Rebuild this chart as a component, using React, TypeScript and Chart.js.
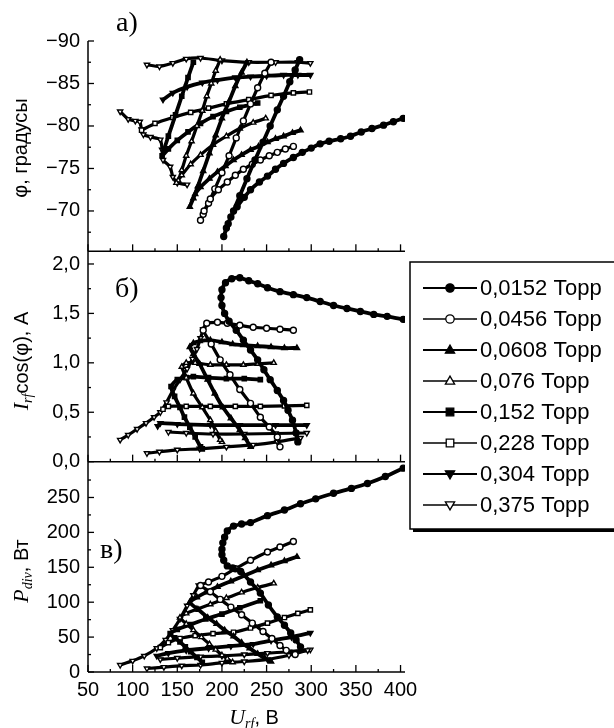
import React, { useEffect, useRef } from 'react';
import { Chart, registerables } from 'chart.js';

Chart.register(...registerables);

type Pt = [number, number] | null;

// ---- legend / series meta ----
const PRESSURES = ['0,0152 Торр', '0,0456 Торр', '0,0608 Торр', '0,076 Торр', '0,152 Торр', '0,228 Торр', '0,304 Торр', '0,375 Торр'];
const MARKERS = ['circle', 'circle', 'triangle', 'triangle', 'rect', 'rect', 'triangle', 'triangle'];
const FILLED = [true, false, true, false, true, false, true, false];
const ROTATION = [0, 0, 0, 0, 0, 0, 180, 180];

// ---- tick values ----
const X_TICKS = [50, 100, 150, 200, 250, 300, 350, 400];
const PHI_TICKS = [-90, -85, -80, -75, -70];
const ICOS_TICKS = [0, 0.5, 1.0, 1.5, 2.0];
const PDIV_TICKS = [0, 50, 100, 150, 200, 250];

// ---- panel a: phase angle (U_rf, phi) ----
const phi_0152: Pt[] = [[287, -87.8], [282, -86.6], [276, -85.2], [269, -83.5], [262, -81.9], [254, -80.0], [246, -78.1], [237, -76.0], [228, -73.8], [220, -71.8], [213, -70.0], [207, -68.5], [202, -67.0], [205, -68.0], [210, -69.3], [217, -70.5], [225, -71.6], [232, -72.5], [242, -73.4], [251, -74.1], [260, -74.9], [269, -75.6], [280, -76.3], [290, -76.9], [300, -77.4], [310, -77.9], [320, -78.2], [333, -78.5], [344, -78.8], [356, -79.3], [368, -79.7], [381, -80.1], [392, -80.5], [403, -80.9]];
const phi_0456: Pt[] = [[255, -87.5], [248, -86.2], [240, -84.5], [232, -82.6], [224, -80.6], [216, -78.6], [208, -76.5], [200, -74.5], [192, -72.6], [185, -70.9], [179, -69.6], [176, -68.9], [180, -70.0], [187, -71.4], [196, -72.5], [206, -73.4], [215, -74.2], [224, -74.9], [234, -75.5], [243, -76.0], [253, -76.5], [262, -76.9], [271, -77.3], [280, -77.6]];
const phi_0608: Pt[] = [[228, -87.5], [222, -86.3], [215, -84.7], [208, -82.9], [200, -80.9], [193, -78.9], [186, -76.8], [179, -74.7], [173, -72.9], [168, -71.5], [164, -70.5], [170, -72.0], [176, -72.8], [186, -73.8], [195, -74.6], [204, -75.3], [213, -76.0], [222, -76.6], [232, -77.2], [241, -77.6], [251, -78.1], [260, -78.5], [269, -78.8], [279, -79.2], [288, -79.5]];
const phi_076: Pt[] = [[198, -87.8], [193, -86.5], [188, -85.0], [183, -83.5], [178, -81.8], [172, -80.0], [166, -78.2], [160, -76.5], [155, -74.8], [151, -73.6], [149, -73.3], [155, -74.2], [165, -75.5], [176, -76.6], [190, -77.8], [205, -78.8], [220, -79.7], [235, -80.4], [249, -80.9]];
const phi_152: Pt[] = [[168, -87.5], [162, -85.7], [155, -83.5], [148, -81.3], [140, -78.8], [135, -77.2], [133, -76.5], [140, -77.3], [150, -78.3], [162, -79.3], [176, -80.3], [190, -81.1], [205, -81.7], [220, -82.2], [240, -82.7]];
const phi_228: Pt[] = [[110, -79.5], [125, -80.3], [145, -81.0], [165, -81.6], [185, -82.1], [205, -82.6], [230, -83.1], [255, -83.6], [280, -83.9], [298, -84.0]];
const phi_304: Pt[] = [[134, -83.1], [145, -83.9], [161, -84.6], [178, -85.1], [195, -85.4], [215, -85.7], [232, -85.8], [250, -85.9], [269, -86.0], [285, -86.0], [299, -86.0]];
const phi_375: Pt[] = [[86, -81.7], [95, -80.8], [103, -80.6], [108, -80.5], [110, -79.6], [112, -79.0], [120, -78.7], [131, -78.4], [133, -77.2], [134, -76.0], [142, -75.2], [145, -74.0], [150, -73.3], [161, -73.1], null, [116, -87.2], [130, -87.0], [145, -87.4], [160, -87.9], [176, -88.0], [200, -87.7], [230, -87.5], [260, -87.5], [285, -87.5], [299, -87.4]];

// ---- panel b: I_rf cos(phi) (U_rf, A) ----
const icos_0152: Pt[] = [[285, 0.20], [283, 0.29], [279, 0.42], [274, 0.52], [269, 0.62], [262, 0.72], [254, 0.83], [247, 0.93], [240, 1.03], [232, 1.13], [224, 1.23], [216, 1.33], [208, 1.42], [203, 1.50], [200, 1.58], [199, 1.66], [200, 1.74], [204, 1.81], [211, 1.85], [220, 1.86], [230, 1.83], [240, 1.80], [251, 1.76], [265, 1.72], [280, 1.69], [295, 1.66], [310, 1.62], [325, 1.58], [340, 1.55], [355, 1.52], [370, 1.49], [385, 1.47], [403, 1.44]];
const icos_0456: Pt[] = [[265, 0.15], [262, 0.25], [253, 0.35], [243, 0.45], [232, 0.59], [220, 0.73], [209, 0.88], [198, 1.03], [188, 1.19], [179, 1.33], [183, 1.40], [195, 1.41], [206, 1.40], [220, 1.38], [235, 1.36], [250, 1.35], [265, 1.34], [280, 1.33]];
const icos_0608: Pt[] = [[232, 0.15], [226, 0.24], [220, 0.32], [210, 0.44], [201, 0.55], [192, 0.69], [184, 0.83], [175, 0.99], [168, 1.09], [164, 1.16], [168, 1.20], [175, 1.22], [187, 1.23], [200, 1.21], [212, 1.19], [224, 1.18], [240, 1.17], [255, 1.16], [270, 1.15], [284, 1.15]];
const icos_076: Pt[] = [[200, 0.20], [198, 0.22], [193, 0.31], [187, 0.42], [178, 0.55], [168, 0.69], [160, 0.85], [155, 0.96], [160, 1.0], [170, 1.0], [187, 0.98], [205, 0.98], [224, 0.98], [240, 0.99], [258, 1.0]];
const icos_152: Pt[] = [[178, 0.13], [176, 0.15], [170, 0.25], [164, 0.35], [158, 0.45], [153, 0.55], [147, 0.66], [143, 0.76], [150, 0.83], [160, 0.85], [168, 0.86], [185, 0.85], [205, 0.84], [225, 0.84], [243, 0.83]];
const icos_228: Pt[] = [[134, 0.53], [140, 0.56], [160, 0.56], [187, 0.56], [215, 0.56], [243, 0.56], [270, 0.565], [295, 0.57]];
const icos_304: Pt[] = [[128, 0.36], [131, 0.39], [150, 0.38], [187, 0.37], [220, 0.37], [260, 0.37], [295, 0.37]];
const icos_375: Pt[] = [[140, 0.30], [160, 0.29], [190, 0.28], [225, 0.28], [260, 0.285], [295, 0.29], null, [116, 0.085], [130, 0.10], [150, 0.12], [175, 0.13], [205, 0.15], [235, 0.17], [262, 0.20], [288, 0.24], null, [86, 0.22], [95, 0.27], [105, 0.33], [115, 0.39], [124, 0.45], [131, 0.50], [138, 0.60], [145, 0.72], [153, 0.83], [161, 0.94], [167, 1.04], [172, 1.14], [176, 1.25], [179, 1.34]];

// ---- panel c: P_div (U_rf, W) ----
const pdiv_0152: Pt[] = [[288, 36], [283, 46], [277, 56], [270, 67], [262, 79], [252, 96], [243, 113], [232, 129], [221, 144], [212, 149], [206, 152], [202, 160], [200, 168], [200, 176], [201, 185], [203, 193], [206, 202], [213, 209], [222, 212], [232, 214], [251, 224], [270, 232], [288, 241], [305, 248], [325, 256], [345, 263], [363, 270], [383, 280], [403, 292]];
const pdiv_0456: Pt[] = [[282, 25], [272, 31], [265, 38], [256, 48], [246, 58], [234, 70], [222, 82], [210, 93], [198, 104], [187, 115], [176, 124], [185, 129], [200, 137], [215, 148], [232, 160], [251, 172], [265, 179], [280, 187]];
const pdiv_0608: Pt[] = [[255, 15], [248, 20], [240, 26], [231, 34], [222, 42], [213, 51], [203, 60], [194, 69], [184, 78], [174, 89], [164, 100], [172, 107], [182, 114], [195, 122], [210, 130], [225, 138], [240, 146], [255, 153], [270, 159], [284, 165]];
const pdiv_076: Pt[] = [[212, 14], [206, 19], [200, 24], [193, 32], [186, 40], [177, 50], [168, 60], [160, 69], [153, 78], [160, 84], [172, 90], [187, 97], [205, 106], [222, 114], [240, 121], [258, 127]];
const pdiv_152: Pt[] = [[178, 14], [172, 21], [165, 29], [159, 36], [153, 43], [147, 49], [142, 55], [150, 61], [165, 68], [182, 76], [200, 83], [220, 92], [243, 102]];
const pdiv_228: Pt[] = [[131, 35], [140, 42], [153, 48], [170, 52], [190, 55], [213, 57], [232, 63], [251, 70], [270, 78], [285, 84], [299, 89]];
const pdiv_304: Pt[] = [[127, 23], [140, 27], [160, 31], [185, 34], [210, 37], [235, 40], [255, 45], [278, 50], [299, 56]];
const pdiv_375: Pt[] = [[131, 18], [150, 20], [176, 22], [200, 23], [225, 25], [251, 27], [275, 29], [299, 32], null, [116, 5], [135, 7], [155, 9], [176, 10], [200, 13], [225, 15], [251, 18], [275, 24], [296, 31], null, [86, 10], [100, 16], [113, 23], [127, 34], [137, 46], [145, 60], [153, 76], [161, 95], [168, 110], [174, 124]];

const PHI_SERIES = [phi_0152, phi_0456, phi_0608, phi_076, phi_152, phi_228, phi_304, phi_375];
const ICOS_SERIES = [icos_0152, icos_0456, icos_0608, icos_076, icos_152, icos_228, icos_304, icos_375];
const PDIV_SERIES = [pdiv_0152, pdiv_0456, pdiv_0608, pdiv_076, pdiv_152, pdiv_228, pdiv_304, pdiv_375];

const SANS = '"Liberation Sans", Arial, sans-serif';
const SERIF = '"Liberation Serif", "Times New Roman", serif';

function toXY(arr: Pt[]) {
  return arr.map((p) => (p ? { x: p[0], y: p[1] } : { x: null, y: null }));
}

function drawMarker(ctx: CanvasRenderingContext2D, style: string, rot: number, x: number, y: number, r: number, filled: boolean) {
  ctx.save();
  ctx.translate(x, y);
  ctx.rotate((rot * Math.PI) / 180);
  ctx.beginPath();
  if (style === 'circle') ctx.arc(0, 0, r, 0, Math.PI * 2);
  else if (style === 'rect') ctx.rect(-r * 0.9, -r * 0.9, r * 1.8, r * 1.8);
  else {
    ctx.moveTo(0, -r * 1.15);
    ctx.lineTo(r * 1.1, r * 0.75);
    ctx.lineTo(-r * 1.1, r * 0.75);
    ctx.closePath();
  }
  ctx.fillStyle = filled ? '#000' : '#fff';
  ctx.fill();
  ctx.lineWidth = 1.3;
  ctx.strokeStyle = '#000';
  ctx.stroke();
  ctx.restore();
}

type Part = { t: string; font: string; dy: number };
function drawRich(ctx: CanvasRenderingContext2D, parts: Part[], cx: number, cy: number, rotate: boolean) {
  ctx.save();
  ctx.translate(cx, cy);
  if (rotate) ctx.rotate(-Math.PI / 2);
  let total = 0;
  parts.forEach((p) => {
    ctx.font = p.font;
    total += ctx.measureText(p.t).width;
  });
  let x = -total / 2;
  ctx.textBaseline = 'alphabetic';
  ctx.textAlign = 'left';
  ctx.fillStyle = '#000';
  parts.forEach((p) => {
    ctx.font = p.font;
    ctx.fillText(p.t, x, p.dy);
    x += ctx.measureText(p.t).width;
  });
  ctx.restore();
}

const decorPlugin = {
  id: 'decor',
  afterDraw(chart: any) {
    const ctx: CanvasRenderingContext2D = chart.ctx;
    const area = chart.chartArea;
    const xs = chart.scales.x;
    ctx.save();
    ctx.strokeStyle = '#000';
    ctx.lineWidth = 1.5;
    ctx.beginPath();
    ctx.moveTo(area.left, area.top);
    ctx.lineTo(area.left, area.bottom);
    ctx.stroke();
    ['yA', 'yB', 'yC'].forEach((id) => {
      const s = chart.scales[id];
      const yb = s.bottom;
      ctx.lineWidth = 1.5;
      ctx.beginPath();
      ctx.moveTo(area.left, yb);
      ctx.lineTo(area.right, yb);
      ctx.stroke();
      ctx.lineWidth = 1.3;
      for (let v = 50; v <= 400; v += 25) {
        const px = xs.getPixelForValue(v);
        const len = v % 50 === 0 ? 7 : 3;
        ctx.beginPath();
        ctx.moveTo(px, yb);
        ctx.lineTo(px, yb - len);
        ctx.stroke();
      }
      const vals: number[] = s.ticks.map((t: any) => t.value);
      for (let i = 0; i < vals.length; i++) {
        const py = s.getPixelForValue(vals[i]);
        ctx.beginPath();
        ctx.moveTo(area.left, py);
        ctx.lineTo(area.left + 6, py);
        ctx.stroke();
      }
      const step = vals[1] - vals[0];
      const lo = Math.min(s.min, s.max);
      const hi = Math.max(s.min, s.max);
      for (let v = vals[0] - step / 2; v <= hi; v += step) {
        if (v < lo) continue;
        const py = s.getPixelForValue(v);
        ctx.beginPath();
        ctx.moveTo(area.left, py);
        ctx.lineTo(area.left + 3, py);
        ctx.stroke();
      }
    });

    ctx.fillStyle = '#000';
    ctx.font = `28px ${SERIF}`;
    ctx.textBaseline = 'alphabetic';
    ctx.textAlign = 'left';
    ctx.fillText('а)', 116, 31);
    ctx.fillText('б)', 115, 297);
    ctx.fillText('в)', 100, 558);

    const it = `italic 22px ${SERIF}`;
    const sub = `italic 14px ${SERIF}`;
    const sans = `20px ${SANS}`;
    drawRich(ctx, [{ t: 'φ, градусы', font: sans, dy: 0 }], 27, 148, true);
    drawRich(ctx, [{ t: 'I', font: it, dy: 0 }, { t: 'rf', font: sub, dy: 4 }, { t: 'cos(φ), A', font: sans, dy: 0 }], 28, 361, true);
    drawRich(ctx, [{ t: 'P', font: it, dy: 0 }, { t: 'div', font: sub, dy: 4 }, { t: ', Вт', font: sans, dy: 0 }], 28, 571, true);
    drawRich(ctx, [{ t: 'U', font: it, dy: 0 }, { t: 'rf', font: sub, dy: 4 }, { t: ', В', font: sans, dy: 0 }], 254, 724, false);

    const lx = 410, ly = 262, lw = 206, lh = 267;
    ctx.fillStyle = '#fff';
    ctx.fillRect(lx, ly, lw, lh);
    ctx.fillStyle = '#000';
    ctx.fillRect(lx + 3, ly + lh, lw, 3);
    ctx.lineWidth = 1.5;
    ctx.strokeRect(lx, ly, lw, lh);
    const n = PRESSURES.length;
    for (let i = 0; i < n; i++) {
      const ds = chart.data.datasets[i];
      const y = 288 + i * 31;
      ctx.strokeStyle = '#000';
      ctx.lineWidth = FILLED[i] ? 2 : 1.5;
      ctx.beginPath();
      ctx.moveTo(423, y);
      ctx.lineTo(477, y);
      ctx.stroke();
      drawMarker(ctx, ds.pointStyle, ds.pointRotation || 0, 450, y, 4.2, FILLED[i]);
      ctx.fillStyle = '#000';
      ctx.font = `22px ${SANS}`;
      ctx.textBaseline = 'middle';
      ctx.textAlign = 'left';
      ctx.fillText(ds.label, 480, y + 1);
    }
    ctx.restore();
  },
};

function makeDatasets(series: Pt[][], axis: string) {
  return series.map((arr, i) => ({
    label: PRESSURES[i],
    data: toXY(arr),
    yAxisID: axis,
    xAxisID: 'x',
    borderColor: '#000',
    borderWidth: FILLED[i] ? 3.8 : 3.2,
    backgroundColor: FILLED[i] ? '#000' : '#fff',
    pointBackgroundColor: FILLED[i] ? '#000' : '#fff',
    pointBorderColor: '#000',
    pointBorderWidth: 1.4,
    pointRadius: 3,
    pointStyle: MARKERS[i],
    pointRotation: ROTATION[i],
    spanGaps: false,
    tension: 0.2,
    fill: false,
  }));
}

function yAxis(min: number, max: number, ticks: number[], fmt: (v: number) => string, reverse: boolean) {
  return {
    type: 'linear',
    position: 'left',
    stack: 'panels',
    stackWeight: 1,
    reverse,
    min,
    max,
    grid: { display: false, drawTicks: false },
    border: { display: false },
    ticks: {
      autoSkip: false,
      padding: 8,
      color: '#000',
      font: { family: SANS, size: 20 },
      callback: (v: any) => fmt(Number(v)),
    },
    afterBuildTicks: (s: any) => {
      s.ticks = ticks.map((v) => ({ value: v }));
    },
    afterFit: (s: any) => {
      s.width = 88;
    },
  };
}

export default function App() {
  const ref = useRef<HTMLCanvasElement>(null);
  useEffect(() => {
    if (!ref.current) return;
    const datasets = [
      ...makeDatasets(PHI_SERIES, 'yA'),
      ...makeDatasets(ICOS_SERIES, 'yB'),
      ...makeDatasets(PDIV_SERIES, 'yC'),
    ];
    const chart = new Chart(ref.current, {
      type: 'line',
      data: { datasets } as any,
      options: {
        responsive: false,
        animation: false,
        devicePixelRatio: 1,
        layout: { padding: { left: 0, right: 209, top: 41, bottom: 0 } },
        plugins: { legend: { display: false }, tooltip: { enabled: false } },
        scales: {
          x: {
            type: 'linear',
            position: 'bottom',
            min: 50,
            max: 405,
            grid: { display: false, drawTicks: false },
            border: { display: false },
            ticks: { autoSkip: false, padding: 6, maxRotation: 0, color: '#000', font: { family: SANS, size: 20 } },
            afterBuildTicks: (s: any) => {
              s.ticks = X_TICKS.map((v) => ({ value: v }));
            },
            afterFit: (s: any) => {
              s.height = 56;
            },
          },
          // stacked panels: first defined is placed at the bottom
          yC: yAxis(0, 301.3, PDIV_TICKS, (v) => String(v), false),
          yB: yAxis(0, 2.128, ICOS_TICKS, (v) => v.toFixed(1).replace('.', ','), false),
          yA: yAxis(-90, -65.25, PHI_TICKS, (v) => '−' + Math.abs(v), true),
        } as any,
      },
      plugins: [decorPlugin],
    });
    return () => chart.destroy();
  }, []);
  return (
    <div style={{ position: 'absolute', left: 0, top: 0, width: 614, height: 728, background: '#fff' }}>
      <canvas ref={ref} width={614} height={728} style={{ display: 'block', width: 614, height: 728 }} />
    </div>
  );
}
